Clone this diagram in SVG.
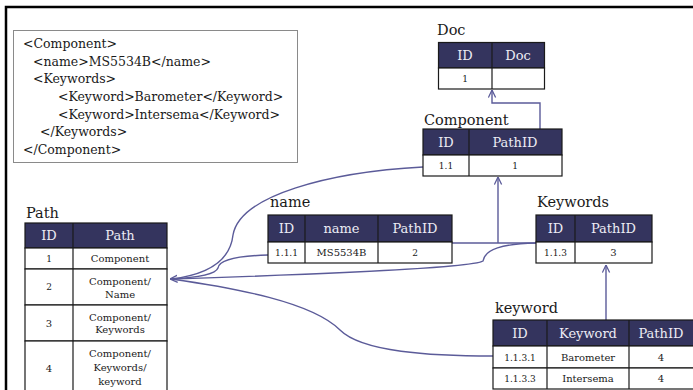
<svg xmlns="http://www.w3.org/2000/svg" width="693" height="390" viewBox="0 0 693 390">
<defs>
<marker id="arr" viewBox="0 0 10 10" refX="9.5" refY="5" markerWidth="8" markerHeight="9" markerUnits="userSpaceOnUse" orient="auto">
<path d="M0,0.5 L9.5,5 L0,9.5" fill="none" stroke="#5b5b99" stroke-width="1.6"/>
</marker>
<style>
text{font-family:"DejaVu Serif","Liberation Serif",serif;fill:#1a1a1a}
.xml{font-size:12.5px}
.title{font-size:14.5px}
.hd{fill:#34345e;stroke:#1a1a1a;stroke-width:1.2}
.cell{fill:#fff;stroke:#1a1a1a;stroke-width:1.2}
.ht{font-size:13px;fill:#ececf4;text-anchor:middle}
.ct{font-size:10px;text-anchor:middle}
.id{font-size:9px;text-anchor:middle}
.con{fill:none;stroke:#5b5b99;stroke-width:1.4}
</style>
</defs>
<rect width="693" height="390" fill="#fff"/>
<path d="M6,390 L6,7 L693,7" fill="none" stroke="#000" stroke-width="2.5"/>

<g id="xml">
<rect x="13.5" y="30.5" width="284" height="132" fill="#fff" stroke="#8a8a8a" stroke-width="1"/>
<text class="xml" x="23" y="48">&lt;Component&gt;</text>
<text class="xml" x="33" y="65.5">&lt;name&gt;MS5534B&lt;/name&gt;</text>
<text class="xml" x="33" y="83">&lt;Keywords&gt;</text>
<text class="xml" x="58" y="101">&lt;Keyword&gt;Barometer&lt;/Keyword&gt;</text>
<text class="xml" x="58" y="118.5">&lt;Keyword&gt;Intersema&lt;/Keyword&gt;</text>
<text class="xml" x="40" y="136">&lt;/Keywords&gt;</text>
<text class="xml" x="23" y="153.5">&lt;/Component&gt;</text>
</g>

<g id="connectors">
<path class="con" d="M540,129 L540,103 L492,103 L492,90" marker-end="url(#arr)"/>
<path class="con" d="M452,243 L536,243"/>
<path class="con" d="M498,243 L498,177" marker-end="url(#arr)"/>
<path class="con" d="M606,320 L606,265" marker-end="url(#arr)"/>
<path class="con" d="M423,167 C330,172 240,195 233,235 C230,262 205,275 171,279"/>
<path class="con" d="M268,255 C235,256 219,260 218,268 C215,276 190,278 171,279"/>
<path class="con" d="M493,356 C430,356 362,352 340,330 C312,302 235,288 171,279"/>
<path class="con" d="M536,243 C502,244 485,249 483,261 C472,268 300,275 170,279" marker-end="url(#arr)"/>
</g>

<g id="doc">
<text class="title" x="437" y="35">Doc</text>
<rect class="hd" x="438.5" y="42.5" width="106" height="25.5"/>
<line x1="492" y1="42.5" x2="492" y2="68" stroke="#1a1a1a" stroke-width="1.2"/>
<rect class="cell" x="438.5" y="68" width="106" height="21"/>
<line x1="492" y1="68" x2="492" y2="89" stroke="#1a1a1a" stroke-width="1.2"/>
<text class="ht" x="465" y="60">ID</text>
<text class="ht" x="518" y="60">Doc</text>
<text class="id" x="465" y="81.5">1</text>
</g>

<g id="component">
<text class="title" x="424" y="125">Component</text>
<rect class="hd" x="423" y="129" width="139" height="26"/>
<line x1="469" y1="129" x2="469" y2="155" stroke="#1a1a1a" stroke-width="1.2"/>
<rect class="cell" x="423" y="155" width="139" height="21"/>
<line x1="469" y1="155" x2="469" y2="176" stroke="#1a1a1a" stroke-width="1.2"/>
<text class="ht" x="446" y="147">ID</text>
<text class="ht" x="515" y="147">PathID</text>
<text class="id" x="446" y="168.5">1.1</text>
<text class="id" x="515" y="168.5">1</text>
</g>

<g id="name">
<text class="title" x="270" y="207">name</text>
<rect class="hd" x="268" y="215" width="184" height="27"/>
<line x1="305" y1="215" x2="305" y2="242" stroke="#1a1a1a" stroke-width="1.2"/>
<line x1="378" y1="215" x2="378" y2="242" stroke="#1a1a1a" stroke-width="1.2"/>
<rect class="cell" x="268" y="242" width="184" height="21"/>
<line x1="305" y1="242" x2="305" y2="263" stroke="#1a1a1a" stroke-width="1.2"/>
<line x1="378" y1="242" x2="378" y2="263" stroke="#1a1a1a" stroke-width="1.2"/>
<text class="ht" x="286.5" y="233">ID</text>
<text class="ht" x="341.5" y="233">name</text>
<text class="ht" x="415" y="233">PathID</text>
<text class="id" x="286.5" y="256">1.1.1</text>
<text class="ct" x="341.5" y="256">MS5534B</text>
<text class="id" x="415" y="256">2</text>
</g>

<g id="keywords">
<text class="title" x="537" y="207">Keywords</text>
<rect class="hd" x="536" y="215" width="116" height="27"/>
<line x1="575" y1="215" x2="575" y2="242" stroke="#1a1a1a" stroke-width="1.2"/>
<rect class="cell" x="536" y="242" width="116" height="21"/>
<line x1="575" y1="242" x2="575" y2="263" stroke="#1a1a1a" stroke-width="1.2"/>
<text class="ht" x="555.5" y="233">ID</text>
<text class="ht" x="613.5" y="233">PathID</text>
<text class="id" x="555.5" y="256">1.1.3</text>
<text class="ct" x="613.5" y="256">3</text>
</g>

<g id="keyword">
<text class="title" x="495" y="313">keyword</text>
<rect class="hd" x="493" y="320" width="202" height="26"/>
<line x1="547" y1="320" x2="547" y2="346" stroke="#1a1a1a" stroke-width="1.2"/>
<line x1="629" y1="320" x2="629" y2="346" stroke="#1a1a1a" stroke-width="1.2"/>
<rect class="cell" x="493" y="346" width="202" height="22"/>
<rect class="cell" x="493" y="368" width="202" height="21"/>
<line x1="547" y1="346" x2="547" y2="389" stroke="#1a1a1a" stroke-width="1.2"/>
<line x1="629" y1="346" x2="629" y2="389" stroke="#1a1a1a" stroke-width="1.2"/>
<text class="ht" x="520" y="338">ID</text>
<text class="ht" x="588" y="338">Keyword</text>
<text class="ht" x="661" y="338">PathID</text>
<text class="id" x="520" y="360.5">1.1.3.1</text>
<text class="ct" x="588" y="360.5">Barometer</text>
<text class="ct" x="661" y="360.5">4</text>
<text class="id" x="520" y="382">1.1.3.3</text>
<text class="ct" x="588" y="382">Intersema</text>
<text class="ct" x="661" y="382">4</text>
</g>

<g id="path">
<text class="title" x="26" y="218">Path</text>
<rect class="hd" x="25" y="223" width="142" height="25"/>
<line x1="73" y1="223" x2="73" y2="248" stroke="#1a1a1a" stroke-width="1.2"/>
<rect class="cell" x="25" y="248" width="142" height="21"/>
<rect class="cell" x="25" y="269" width="142" height="36"/>
<rect class="cell" x="25" y="305" width="142" height="36"/>
<rect class="cell" x="25" y="341" width="142" height="52"/>
<line x1="73" y1="248" x2="73" y2="393" stroke="#1a1a1a" stroke-width="1.2"/>
<text class="ht" x="49" y="240">ID</text>
<text class="ht" x="120" y="240">Path</text>
<text class="id" x="49" y="262">1</text>
<text class="ct" x="120" y="262">Component</text>
<text class="id" x="49" y="290">2</text>
<text class="ct" x="120" y="285">Component/</text>
<text class="ct" x="120" y="298">Name</text>
<text class="ct" x="49" y="326.5">3</text>
<text class="ct" x="120" y="320.5">Component/</text>
<text class="ct" x="120" y="333">Keywords</text>
<text class="ct" x="49" y="371.5">4</text>
<text class="ct" x="120" y="357">Component/</text>
<text class="ct" x="120" y="371">Keywords/</text>
<text class="ct" x="120" y="385">keyword</text>
</g>
</svg>
